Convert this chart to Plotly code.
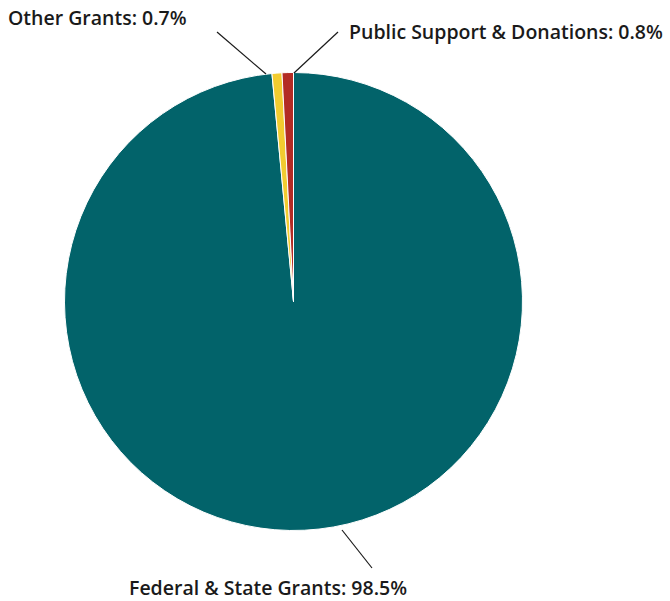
import plotly.graph_objects as go

labels = ["Federal & State Grants", "Other Grants", "Public Support & Donations"]
values = [98.5, 0.7, 0.8]
colors = ["#02636A", "#F2CC30", "#B32C24"]

W, H = 670, 601

def px(x):
    return x / W

def py(y):
    return 1 - y / H

cx, cy, r = 293.5, 301.5, 229

fig = go.Figure(go.Pie(
    labels=labels,
    values=values,
    sort=False,
    direction="clockwise",
    rotation=0,
    marker=dict(colors=colors, line=dict(color="white", width=1)),
    textinfo="none",
    hoverinfo="label+percent",
    domain=dict(x=[px(cx - r), px(cx + r)], y=[py(cy + r), py(cy - r)]),
    showlegend=False,
))

font = dict(family="'Open Sans', sans-serif", size=19.5, color="#1a1a1a", weight=600)

# label annotations: (text, x_left, y_center)
label_pos = [
    (f"{labels[0]}: {values[0]}%", 127, 587),
    (f"{labels[1]}: {values[1]}%", 6, 18),
    (f"{labels[2]}: {values[2]}%", 347, 32),
]
annotations = []
for t, x, y in label_pos:
    annotations.append(dict(text=t, x=px(x), y=py(y), xref="paper", yref="paper",
                            xanchor="left", yanchor="middle", showarrow=False, font=font))

leaders = [
    (342, 530, 372, 568),
    (217, 32, 266, 74),
    (338, 32, 294, 73),
]
shapes = []
for x0, y0, x1, y1 in leaders:
    shapes.append(dict(type="line", xref="paper", yref="paper",
                       x0=px(x0), y0=py(y0), x1=px(x1), y1=py(y1),
                       line=dict(color="#1a1a1a", width=1.2)))

fig.update_layout(
    width=W, height=H,
    margin=dict(l=0, r=0, t=0, b=0),
    paper_bgcolor="white",
    plot_bgcolor="white",
    annotations=annotations,
    shapes=shapes,
)

fig.write_html("out.html")
